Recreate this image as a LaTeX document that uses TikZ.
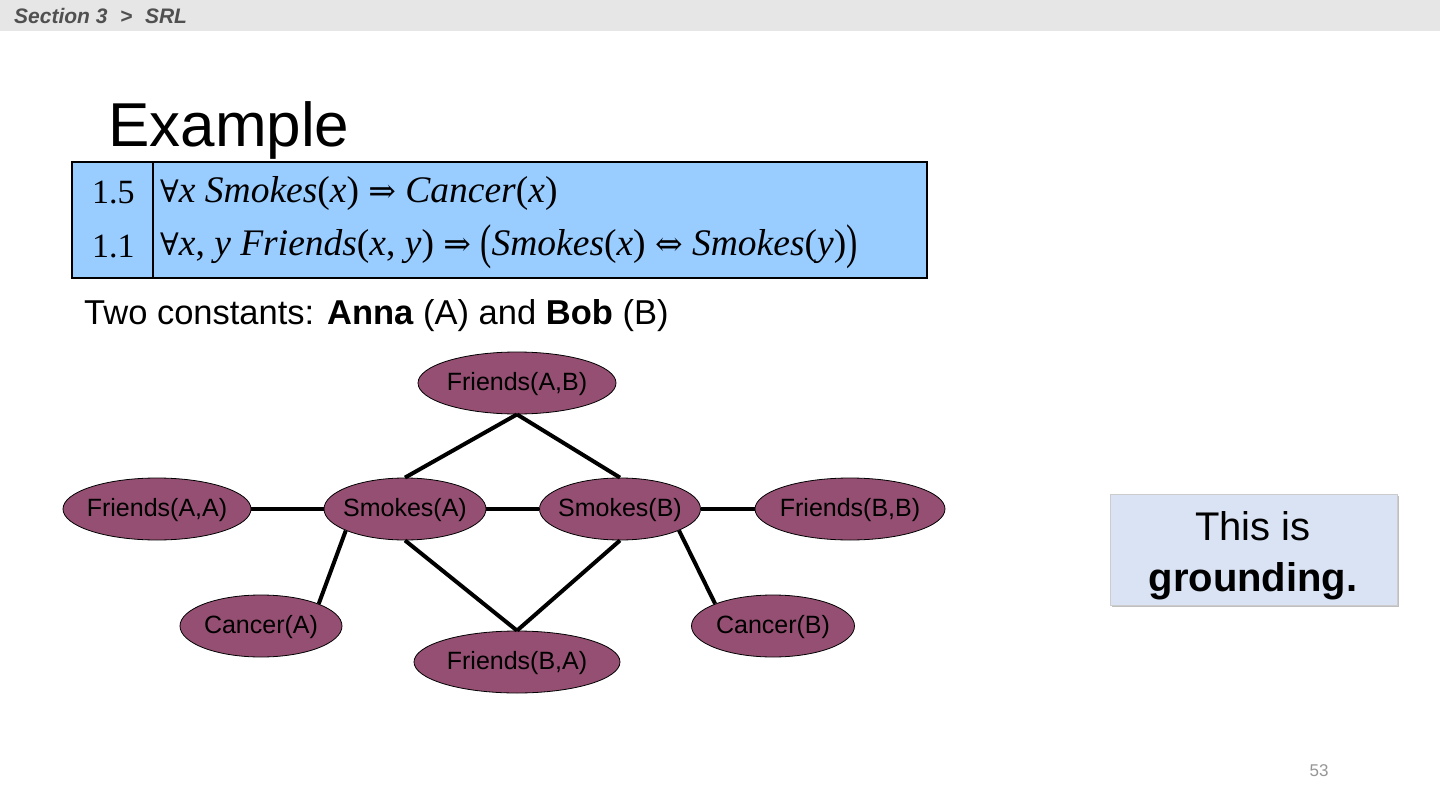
\documentclass[tikz,border=0pt]{standalone}
\usepackage{graphicx}
\usepackage{fontspec}
\setmainfont{Liberation Sans}
\newfontfamily\tms{Liberation Serif}
\newfontfamily\symf{DejaVu Serif}
\usetikzlibrary{shapes.geometric}
\definecolor{nodefill}{RGB}{149,79,114}
\definecolor{tablefill}{RGB}{153,204,255}
\definecolor{boxfill}{RGB}{218,227,243}
\definecolor{hdrbar}{RGB}{230,230,230}
\definecolor{hdrtext}{RGB}{80,80,80}
\definecolor{pgnum}{RGB}{150,150,150}
\newcommand{\fa}{{\symf\fontsize{31}{36}\selectfont ∀}}
\newcommand{\impl}{{\symf\fontsize{33}{36}\selectfont ⇒}}
\newcommand{\iffsym}{{\symf\fontsize{33}{36}\selectfont ⇔}}
\newcommand{\bigpl}{\raisebox{-3pt}{\scalebox{0.9}[1.3]{(}}}
\newcommand{\bigpr}{\raisebox{-3pt}{\scalebox{0.9}[1.3]{)}}}
\newcommand{\lbl}[1]{\makebox[0pt][c]{#1}}
\tikzset{
  atom/.style={ellipse, draw=black, line width=0.8pt, fill=nodefill, inner sep=0pt,
    minimum height=62pt, text height=14pt, text depth=0pt, font=\fontsize{25}{29}\selectfont},
  edge/.style={line width=4pt, black},
  frm/.style={anchor=west, inner sep=0pt, font=\fontsize{37.5}{42}\selectfont\tms},
  wgt/.style={anchor=west, inner sep=0pt, font=\fontsize{34}{40}\selectfont\tms},
}
\begin{document}
\begin{tikzpicture}[x=1pt,y=-1pt]
\useasboundingbox (0,0) rectangle (1440,810);
\fill[white] (0,0) rectangle (1440,810);
% header
\fill[hdrbar] (0,0) rectangle (1440,31);
\node[anchor=west, inner sep=0pt, text=hdrtext, font=\fontsize{21}{23}\selectfont\bfseries\itshape] (hdr) at (14,16) {Section 3\hspace{0.6em}>\hspace{0.6em}SRL};
% title
\node[anchor=west, inner sep=0pt, font=\fontsize{62}{70}\selectfont] (title) at (108,130) {Example};
% table
\draw[fill=tablefill, line width=1.6pt] (72,162) rectangle (927,278);
\draw[line width=1.6pt] (153,162) -- (153,278);
\node[wgt] (w1) at (92,193) {1.5};
\node[wgt] (w2) at (92,247) {1.1};
\node[frm] (f1) at (160,193) {\fa\textit{x Smokes}(\textit{x}) \impl\ \textit{Cancer}(\textit{x})};
\node[frm] (f2) at (160,247) {\fa\textit{x}, \textit{y Friends}(\textit{x}, \textit{y}) \impl\ \bigpl\textit{Smokes}(\textit{x}) \iffsym\ \textit{Smokes}(\textit{y})\bigpr};
% constants line
\node[anchor=west, inner sep=0pt, font=\fontsize{34.5}{40}\selectfont] (consts) at (84,316) {Two constants: \textbf{Anna} (A) and \textbf{Bob} (B)};
% nodes
\node[atom, minimum width=198pt] (fab) at (517,383) {\lbl{Friends(A,B)}};
\node[atom, minimum width=188pt] (faa) at (157,509) {\lbl{Friends(A,A)}};
\node[atom, minimum width=162pt] (sa) at (405,509) {\lbl{Smokes(A)}};
\node[atom, minimum width=161pt] (sb) at (620,509) {\lbl{Smokes(B)}};
\node[atom, minimum width=190pt] (fbb) at (850,509) {\lbl{Friends(B,B)}};
\node[atom, minimum width=162pt] (ca) at (261,626) {\lbl{Cancer(A)}};
\node[atom, minimum width=163pt] (cb) at (773,626) {\lbl{Cancer(B)}};
\node[atom, minimum width=206pt] (fba) at (517,662) {\lbl{Friends(B,A)}};
% edges
\draw[edge] (fab.south) -- (sa.north);
\draw[edge] (fab.south) -- (sb.north);
\draw[edge] (faa) -- (sa);
\draw[edge] (sa) -- (sb);
\draw[edge] (sb) -- (fbb);
\draw[edge] (sa.south) -- (fba.north);
\draw[edge] (sb.south) -- (fba.north);
\draw[edge] (sa.200) -- (ca.21);
\draw[edge] (sb.-20) -- (cb.159);
% grounding box
\fill[black!25] (1112,496) rectangle (1399,607);
\draw[fill=boxfill, draw=black!20, line width=0.8pt] (1110,494) rectangle (1397,605);
\node[align=center, inner sep=0pt, font=\fontsize{40}{51}\selectfont] (gbox) at (1253,556) {This is\\\textbf{grounding.}};
% page number
\node[inner sep=0pt, text=pgnum, font=\fontsize{17}{19}\selectfont] (pg) at (1319,771) {53};
\end{tikzpicture}
\end{document}
